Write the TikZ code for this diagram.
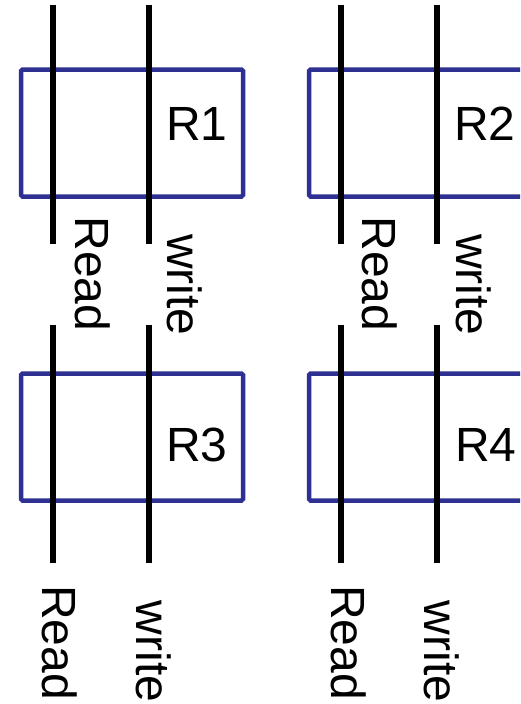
\documentclass[tikz,border=0pt]{standalone}
\usepackage{fontspec}
\setmainfont{Liberation Sans}
\definecolor{regblue}{RGB}{46,49,146}
\tikzset{
  regbox/.style={draw=regblue, line width=4.5pt, rounded corners=1.5pt,
    minimum width=222pt, minimum height=127pt, inner sep=0pt},
  wire/.style={line width=5.5pt},
  lbl/.style={font=\fontsize{48}{58}\selectfont, inner sep=0pt},
  vlbl/.style={lbl, rotate=-90},
}
\begin{document}
\begin{tikzpicture}[x=1pt, y=-1pt]
    \useasboundingbox (0,0) rectangle (520,704);
    \clip (0,0) rectangle (520,704);
    % --- register boxes ---
    \node[regbox] (b1) at (132,133) {};
    \node[regbox] (b2) at (420,133) {};
    \node[regbox] (b3) at (132,437) {};
    \node[regbox] (b4) at (420,437) {};
    \node[lbl, anchor=west] (r1) at (166,124) {R1};
    \node[lbl, anchor=west] (r2) at (454,124) {R2};
    \node[lbl, anchor=west] (r3) at (166,444.5) {R3};
    \node[lbl, anchor=west] (r4) at (455,444.5) {R4};
    % --- read/write wires ---
    \foreach \x [count=\i] in {53,149,341,437} {
        \coordinate (up\i) at (\x,5);
        \coordinate (um\i) at (\x,244);
        \coordinate (lo\i) at (\x,325);
        \coordinate (lm\i) at (\x,563);
        \draw[wire] (up\i) -- (um\i);
        \draw[wire] (lo\i) -- (lm\i);
    }
    % --- labels ---
    \node[vlbl] (rd1) at (92.5,274) {Read};
    \node[vlbl] (wr1) at (185,285) {write};
    \node[vlbl] (rd2) at (380,274) {Read};
    \node[vlbl] (wr2) at (474,285) {write};
    \node[vlbl] (rd3) at (60,642.5) {Read};
    \node[vlbl] (wr3) at (154,651.5) {write};
    \node[vlbl] (rd4) at (349,642.5) {Read};
    \node[vlbl] (wr4) at (442,651.5) {write};
\end{tikzpicture}
\end{document}
